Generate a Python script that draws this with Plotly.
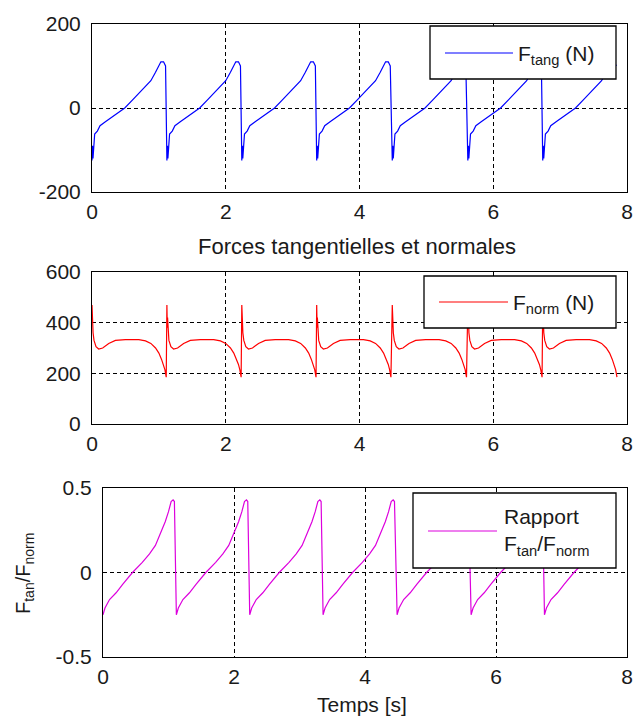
import plotly.graph_objects as go

# ---------------- data ----------------
# start time of each stick-slip cycle (s) and end of record
cycle_starts = [0.0, 1.12, 2.24, 3.36, 4.49, 5.62, 6.74]
t_end = 7.87

# shape of one cycle : phase (s after cycle start) -> value
tang_phase = [0.000, 0.008, 0.015, 0.025, 0.040, 0.08, 0.12, 0.20, 0.31, 0.40, 0.49,
              0.60, 0.70, 0.77, 0.88, 0.95, 1.00, 1.03, 1.07, 1.10]
tang_vals = [-125, -90, -120, -85, -62, -55, -42, -33, -21, -10, 0,
             18, 35, 45, 65, 85, 102, 110, 110, 100]

norm_phase = [0.000, 0.006, 0.010, 0.016, 0.03, 0.06, 0.10, 0.16, 0.25, 0.35, 0.50,
              0.70, 0.80, 0.88, 0.95, 1.00, 1.04, 1.07, 1.09, 1.11]
norm_vals = [470, 380, 420, 360, 330, 305, 296, 300, 318, 330, 333,
             333, 328, 318, 300, 280, 255, 235, 215, 185]

ratio_phase = [0.00, 0.03, 0.10, 0.20, 0.30, 0.45, 0.60, 0.71, 0.80, 0.88,
               0.95, 1.00, 1.04, 1.07, 1.09]
ratio_vals = [-0.25, -0.21, -0.16, -0.12, -0.07, 0.00, 0.06, 0.11, 0.16, 0.23,
              0.30, 0.36, 0.42, 0.43, 0.42]

x_ticks = [0, 2, 4, 6, 8]
tang_ticks = [-200, 0, 200]
tang_tick_text = ["-200", "0", "200"]
norm_ticks = [0, 200, 400, 600]
ratio_ticks = [-0.5, 0, 0.5]
ratio_tick_text = ["-0.5", "0", "0.5"]


def build(phase, vals):
    t, y = [], []
    for s in cycle_starts:
        for p, v in zip(phase, vals):
            if s + p <= t_end:
                t.append(s + p)
                y.append(v)
    return t, y


t1, y1 = build(tang_phase, tang_vals)
t2, y2 = build(norm_phase, norm_vals)
t3, y3 = build(ratio_phase, ratio_vals)

W, H = 634, 717
FONT = "Liberation Sans, Arial, sans-serif"
TXT = "#1a1a1a"


def px(x):
    return x / W


def py(y):
    return 1 - y / H


fig = go.Figure()
fig.add_trace(go.Scatter(x=t1, y=y1, mode="lines", name="F<sub>tang</sub> (N)",
                         line=dict(color="#0000FF", width=1.2), xaxis="x", yaxis="y",
                         showlegend=False))
fig.add_trace(go.Scatter(x=t2, y=y2, mode="lines", name="F<sub>norm</sub> (N)",
                         line=dict(color="#FF0000", width=1.2), xaxis="x2", yaxis="y2",
                         showlegend=False))
fig.add_trace(go.Scatter(x=t3, y=y3, mode="lines", name="Rapport F<sub>tan</sub>/F<sub>norm</sub>",
                         line=dict(color="#DD00DD", width=1.2), xaxis="x3", yaxis="y3",
                         showlegend=False))

common = dict(showline=True, mirror=True, linecolor="black", linewidth=1,
              showgrid=True, gridcolor="black", gridwidth=1, griddash="4px,3px",
              zeroline=False, ticks="", automargin=False,
              tickfont=dict(family=FONT, size=21, color=TXT))

xdom12 = [px(92), px(627)]
xdom3 = [px(103), px(627)]

fig.update_layout(
    width=W, height=H,
    margin=dict(l=0, r=0, t=0, b=0),
    paper_bgcolor="white", plot_bgcolor="white",
    font=dict(family=FONT, size=21, color=TXT),
    xaxis=dict(domain=xdom12, range=[0, 8], tickvals=x_ticks, anchor="y",
               ticklabelstandoff=1, **common),
    yaxis=dict(domain=[py(192), py(24)], range=[-200, 200], tickvals=tang_ticks,
               ticktext=tang_tick_text, anchor="x", ticklabelstandoff=6, **common),
    xaxis2=dict(domain=xdom12, range=[0, 8], tickvals=x_ticks, anchor="y2",
                ticklabelstandoff=1, **common),
    yaxis2=dict(domain=[py(424), py(272)], range=[0, 600], tickvals=norm_ticks,
                anchor="x2", ticklabelstandoff=6, **common),
    xaxis3=dict(domain=xdom3, range=[0, 8], tickvals=x_ticks, anchor="y3",
                ticklabelstandoff=1, **common),
    yaxis3=dict(domain=[py(657), py(488)], range=[-0.5, 0.5], tickvals=ratio_ticks,
                ticktext=ratio_tick_text, anchor="x3", ticklabelstandoff=6, **common),
)

shapes = []
annotations = []


def legend_box(x0, x1, y0, y1, lx0, lx1, ly, color, text, tx, ty):
    shapes.append(dict(type="rect", xref="paper", yref="paper",
                       x0=px(x0), x1=px(x1), y0=py(y1), y1=py(y0),
                       line=dict(color="black", width=1.3), fillcolor="white",
                       layer="above"))
    shapes.append(dict(type="line", xref="paper", yref="paper",
                       x0=px(lx0), x1=px(lx1), y0=py(ly), y1=py(ly),
                       line=dict(color=color, width=1.2), layer="above"))
    annotations.append(dict(text=text, xref="paper", yref="paper", x=px(tx), y=py(ty),
                            xanchor="left", yanchor="middle", align="left",
                            showarrow=False, font=dict(family=FONT, size=21, color=TXT)))


legend_box(430, 616, 26, 79, 445, 513, 53, "#0000FF", "F<sub>tang</sub> (N)", 516, 55)
legend_box(424, 616, 276, 328, 439, 508, 302, "#FF0000", "F<sub>norm</sub> (N)", 511, 304)
legend_box(413, 616, 493, 568, 428, 497, 531, "#DD00DD",
           "Rapport<br>F<sub>tan</sub>/F<sub>norm</sub>", 502, 532)

annotations.append(dict(text="Forces tangentielles et normales", xref="paper", yref="paper",
                        x=px(357), y=py(247), xanchor="center", yanchor="middle",
                        showarrow=False, font=dict(family=FONT, size=22, color=TXT)))
annotations.append(dict(text="Temps [s]", xref="paper", yref="paper",
                        x=px(362), y=py(704), xanchor="center", yanchor="middle",
                        showarrow=False, font=dict(family=FONT, size=21, color=TXT)))
annotations.append(dict(text="F<sub>tan</sub>/F<sub>norm</sub>", xref="paper", yref="paper",
                        x=px(24), y=py(574), xanchor="center", yanchor="middle",
                        textangle=-90, showarrow=False,
                        font=dict(family=FONT, size=20, color=TXT)))

fig.update_layout(shapes=shapes, annotations=annotations)

fig.write_html(
    "out.html",
    config={"displayModeBar": False},
    post_script="document.body.style.margin='0px';document.body.style.overflow='hidden';",
)
